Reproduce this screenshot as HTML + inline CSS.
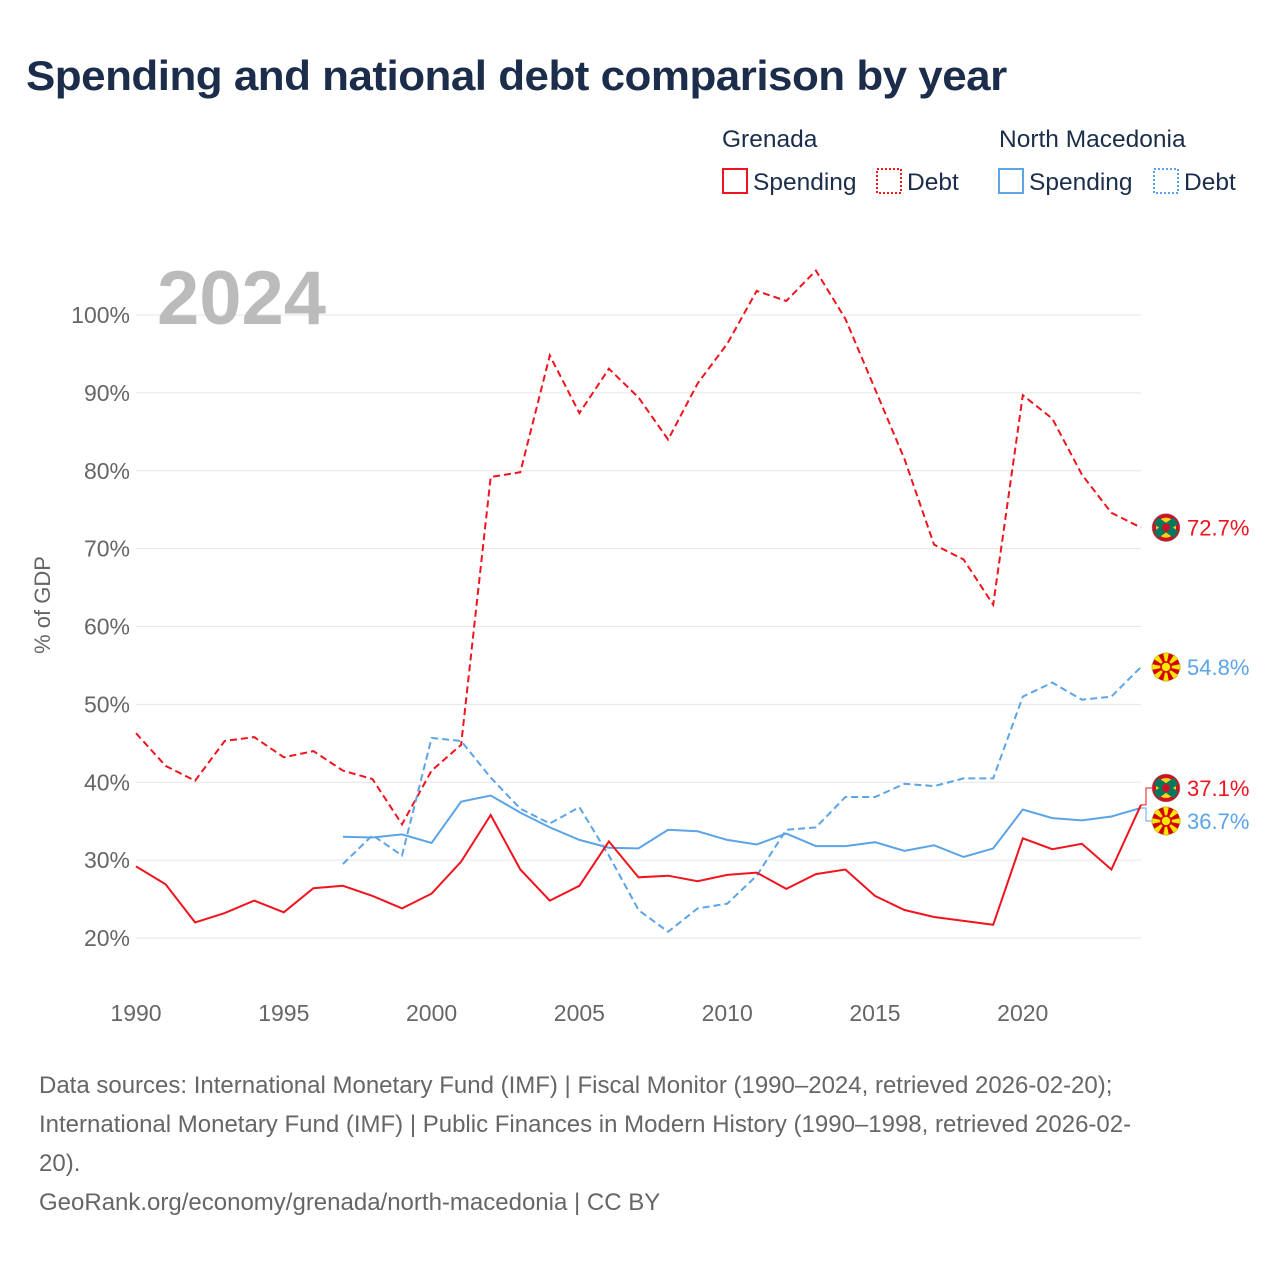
<!DOCTYPE html>
<html><head><meta charset="utf-8"><style>
body{margin:0;background:#fff;font-family:"Liberation Sans",sans-serif;}
#wrap{position:relative;width:1280px;height:1280px;overflow:hidden;}
.t{position:absolute;white-space:nowrap;}
</style></head><body>
<div id="wrap">
<div class="t" style="left:26px;top:52px;font-size:42px;font-weight:bold;color:#1b2d4b;letter-spacing:-0.5px;transform:scaleX(1.047);transform-origin:0 0">Spending and national debt comparison by year</div>
<svg id="c" width="1280" height="1280" style="position:absolute;left:0;top:0"></svg>
<div class="t" style="left:39px;top:1066px;font-size:24px;line-height:39px;color:#666;">Data sources: International Monetary Fund (IMF) | Fiscal Monitor (1990–2024, retrieved 2026-02-20);<br>International Monetary Fund (IMF) | Public Finances in Modern History (1990–1998, retrieved 2026-02-<br>20).<br>GeoRank.org/economy/grenada/north-macedonia | CC BY</div>
</div>
<script>
const years=[];for(let y=1990;y<=2024;y++)years.push(y);
const grdSpending=[29.2,26.9,22.0,23.2,24.8,23.3,26.4,26.7,25.4,23.8,25.7,29.8,35.8,28.8,24.8,26.7,32.4,27.8,28.0,27.3,28.1,28.4,26.3,28.2,28.8,25.4,23.6,22.7,22.2,21.7,32.8,31.4,32.1,28.8,37.1];
const grdDebt=[46.3,42.1,40.2,45.3,45.8,43.2,44.0,41.5,40.4,34.6,41.5,44.8,79.2,79.8,94.8,87.4,93.1,89.4,84.0,91.2,96.3,103.1,101.8,105.7,99.5,90.5,81.5,70.5,68.6,62.8,89.7,86.7,79.5,74.6,72.7];
const mkdStart=1997;
const mkdSpending=[33.0,32.9,33.3,32.2,37.5,38.3,36.1,34.2,32.6,31.6,31.5,33.9,33.7,32.6,32.0,33.4,31.8,31.8,32.3,31.2,31.9,30.4,31.5,36.5,35.4,35.1,35.6,36.7];
const mkdDebt=[29.5,33.2,30.6,45.7,45.3,40.6,36.6,34.7,36.8,30.6,23.6,20.8,23.8,24.4,28.0,33.9,34.2,38.1,38.1,39.8,39.5,40.5,40.5,51.0,52.8,50.6,51.0,54.8];
const yTicks=[20,30,40,50,60,70,80,90,100];
const xTicks=[1990,1995,2000,2005,2010,2015,2020];
const X=y=>136+(y-1990)*(1141-136)/34;
const Y=v=>938-(v-20)*(938-315)/80;
const svg=document.getElementById('c');const NS='http://www.w3.org/2000/svg';
function el(tag,attrs,txt){const e=document.createElementNS(NS,tag);for(const k in attrs)e.setAttribute(k,attrs[k]);if(txt!==undefined)e.textContent=txt;svg.appendChild(e);return e;}
yTicks.forEach(v=>{
 const g=el('line',{x1:136,x2:1141,y1:Y(v),y2:Y(v),stroke:'#e6e6e6','stroke-width':1});
 
 
 const t=el('text',{x:130,y:Y(v)+8,'text-anchor':'end','font-size':23,fill:'#666','font-family':'Liberation Sans'},v+'%');
 
 
});
xTicks.forEach(y=>{
 const t=el('text',{x:X(y),y:1021,'text-anchor':'middle','font-size':23,fill:'#666','font-family':'Liberation Sans'},y);
 
 
});
const yt=el('text',{x:50,y:605,'text-anchor':'middle','font-size':22,fill:'#666',transform:'rotate(-90 50 605)','font-family':'Liberation Sans'},'% of GDP');


const yr=el('text',{x:157,y:324,'font-size':76,'font-weight':'bold',fill:'#bbb','font-family':'Liberation Sans'},'2024');


function line(vals,start,color,dash,name){
 const d=vals.map((v,i)=>(i?'L':'M')+X(start+i).toFixed(1)+','+Y(v).toFixed(1)).join('');
 const p=el('path',{d:d,fill:'none',stroke:color,'stroke-width':2,'stroke-dasharray':dash});
 
 
}
const red='#f0141e',blue='#5ba4e8';
line(grdDebt,1990,red,'7,4','grenada-debt-line');
line(mkdDebt,mkdStart,blue,'7,4','north-macedonia-debt-line');
line(mkdSpending,mkdStart,blue,'none','north-macedonia-spending-line');
line(grdSpending,1990,red,'none','grenada-spending-line');
function flag(cy,type,name){
 const cx=1166;
 if(type==='g'){
  el('circle',{cx:cx,cy:cy,r:14,fill:'#ce1126'});
  el('circle',{cx:cx,cy:cy,r:10,fill:'#fcd116'});
  el('path',{d:`M${cx-10},${cy-7}L${cx+10},${cy+7}M${cx-10},${cy+7}L${cx+10},${cy-7}`,stroke:'#007a5e','stroke-width':8});
  el('circle',{cx:cx,cy:cy,r:4,fill:'#ce1126'});
 }else{
  el('circle',{cx:cx,cy:cy,r:14,fill:'#d20000'});
  for(let a=0;a<8;a++){const r=a*Math.PI/4;el('path',{d:`M${cx},${cy}L${cx+15*Math.cos(r-0.2)},${cy+15*Math.sin(r-0.2)}L${cx+15*Math.cos(r+0.2)},${cy+15*Math.sin(r+0.2)}Z`,fill:'#ffe600'});}
  el('circle',{cx:cx,cy:cy,r:5,fill:'#ffe600',stroke:'#d20000','stroke-width':1.5});
 }
 const c=el('circle',{cx:cx,cy:cy,r:14,fill:'none',stroke:'#999','stroke-width':0.5});
 
 
}
function endLabel(v,cy,color,type,name){
 flag(cy,type,name+'-flag');
 const t=el('text',{x:1187,y:cy+8,'font-size':22,fill:color,'font-family':'Liberation Sans'},v.toFixed(1)+'%');
 
 
}
endLabel(grdDebt[grdDebt.length-1],Y(grdDebt[grdDebt.length-1]),red,'g','grenada-debt-end');
endLabel(mkdDebt[mkdDebt.length-1],Y(mkdDebt[mkdDebt.length-1]),blue,'m','mkd-debt-end');
const gs=grdSpending[grdSpending.length-1],ms=mkdSpending[mkdSpending.length-1];
el('path',{d:`M1141,${Y(gs)}L1146,${Y(gs)}L1146,788L1152,788`,fill:'none',stroke:red,'stroke-width':1});
el('path',{d:`M1141,${Y(ms)}L1146,${Y(ms)}L1146,821L1152,821`,fill:'none',stroke:blue,'stroke-width':1});
endLabel(gs,788,red,'g','grenada-spending-end');
endLabel(ms,821,blue,'m','mkd-spending-end');
function lt(x,y,s,name){const t=el('text',{x:x,y:y,'font-size':24.5,fill:'#1b2d4b','font-family':'Liberation Sans'},s);}
lt(722,147,'Grenada','legend-group-grenada');lt(999,147,'North Macedonia','legend-group-north-macedonia');
function lb(x,color,dash,label,name){
 const r=el('rect',{x:x,y:169,width:24,height:24,fill:'none',stroke:color,'stroke-width':2,'stroke-dasharray':dash});
 
 
 lt(x+30,190,label,name+'-text');
}
lb(723,red,'none','Spending','legend-grenada-spending');
lb(877,red,'2,2','Debt','legend-grenada-debt');
lb(999,blue,'none','Spending','legend-mkd-spending');
lb(1154,blue,'2,2','Debt','legend-mkd-debt');
</script>
</body></html>
